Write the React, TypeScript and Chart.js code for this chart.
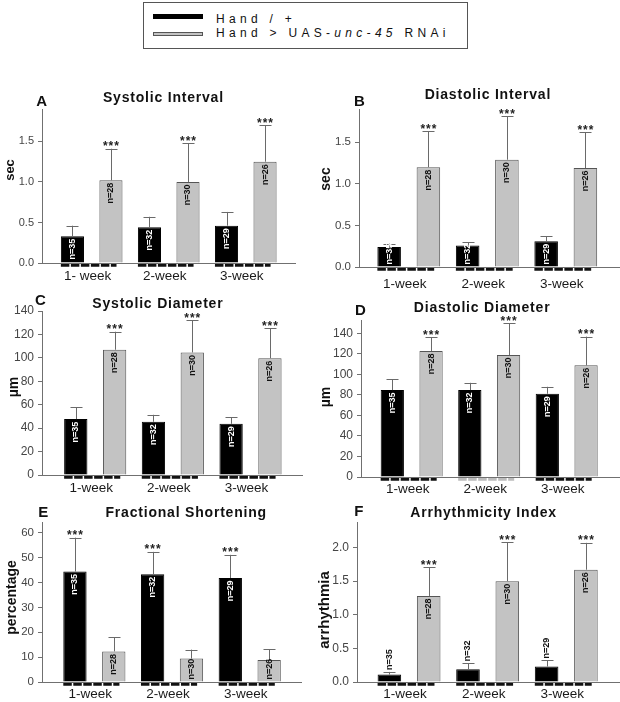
import React, { useEffect, useRef } from "react";
import { Chart, registerables } from "chart.js";

Chart.register(...registerables);

const FONT = "'Liberation Sans', Arial, Helvetica, sans-serif";
const NARROW = "'Liberation Sans Narrow', 'Arial Narrow', 'Liberation Sans', Arial, sans-serif";

// ---------- data ----------
const groupPositions = [1, 2, 3];
const weekLabels = ["1-week", "2-week", "3-week"];
const weekLabelsA = ["1- week", "2-week", "3-week"];

const controlName = "Hand / +";
const rnaiPrefix = "Hand > UAS-";
const rnaiGene = "unc-45";
const rnaiSuffix = " RNAi";

const nControl = ["n=35", "n=32", "n=29"];
const nRnai = ["n=28", "n=30", "n=26"];
const stars = ["***", "***", "***"];
const noStars = ["", "", ""];

// A: Systolic Interval (sec)
const sysIntControl = [0.33, 0.44, 0.46];
const sysIntControlErr = [0.13, 0.13, 0.17];
const sysIntRnai = [1.02, 1.0, 1.25];
const sysIntRnaiErr = [0.39, 0.48, 0.45];

// B: Diastolic Interval (sec)
const diaIntControl = [0.24, 0.26, 0.31];
const diaIntControlErr = [0.04, 0.04, 0.06];
const diaIntRnai = [1.2, 1.29, 1.19];
const diaIntRnaiErr = [0.43, 0.52, 0.43];

const intervalTicks = [0, 0.5, 1.0, 1.5];
const intervalTickLabels = ["0.0", "0.5", "1.0", "1.5"];

// C: Systolic Diameter (µm)
const sysDiaControl = [47.7, 45.4, 43.7];
const sysDiaControlErr = [10.3, 6.0, 5.7];
const sysDiaRnai = [106.9, 104.6, 99.7];
const sysDiaRnaiErr = [15.4, 27.7, 25.7];

// D: Diastolic Diameter (µm)
const diaDiaControl = [84.7, 84.7, 81.1];
const diaDiaControlErr = [10.4, 7.1, 6.8];
const diaDiaRnai = [122.8, 118.9, 108.8];
const diaDiaRnaiErr = [13.3, 30.9, 28.0];

const diameterTicks = [0, 20, 40, 60, 80, 100, 120, 140];
const diameterTickLabels = ["0", "20", "40", "60", "80", "100", "120", "140"];

// E: Fractional Shortening (percentage)
const fsControl = [44.4, 43.3, 41.8];
const fsControlErr = [13.6, 9.0, 9.3];
const fsRnai = [12.3, 9.4, 8.8];
const fsRnaiErr = [5.7, 3.6, 4.3];
const fsTicks = [0, 10, 20, 30, 40, 50, 60];
const fsTickLabels = ["0", "10", "20", "30", "40", "50", "60"];

// F: Arrhythmicity Index
const aiControl = [0.11, 0.19, 0.23];
const aiControlErr = [0.04, 0.09, 0.09];
const aiRnai = [1.28, 1.5, 1.67];
const aiRnaiErr = [0.43, 0.58, 0.4];
const aiTicks = [0, 0.5, 1.0, 1.5, 2.0];
const aiTickLabels = ["0.0", "0.5", "1.0", "1.5", "2.0"];

// ---------- panel layout ----------
type Pt = { x: number; y: number };
type PanelCfg = {
  letter: string;
  title: string;
  yTitle: string;
  yTitleFont: string;
  canvas: { x: number; y: number; w: number; h: number };
  area: { L: number; R: number; T: number; B: number };
  xMin: number;
  xMax: number;
  yMax: number;
  yTicks: number[];
  yTickLabels: string[];
  yTickSize: number;
  xLabels: string[];
  xLabelPad: number;
  control: number[];
  controlErr: number[];
  rnai: number[];
  rnaiErr: number[];
  controlStars: string[];
  rnaiStars: string[];
  controlNAbove: boolean;
  titlePos: Pt;
  letterPos: Pt;
  yTitlePos: Pt;
  dashColors: string[];
};

const panels: PanelCfg[] = [
  {
    letter: "A", title: "Systolic Interval", yTitle: "sec", yTitleFont: `bold 13px ${FONT}`,
    canvas: { x: 0, y: 60, w: 310, h: 232 }, area: { L: 42, R: 295, T: 109, B: 263 },
    xMin: 0.355, xMax: 3.639, yMax: 1.9, yTicks: intervalTicks, yTickLabels: intervalTickLabels, yTickSize: 11,
    xLabels: weekLabelsA, xLabelPad: 5.5,
    control: sysIntControl, controlErr: sysIntControlErr, rnai: sysIntRnai, rnaiErr: sysIntRnaiErr,
    controlStars: noStars, rnaiStars: stars, controlNAbove: false,
    titlePos: { x: 163, y: 97.7 }, letterPos: { x: 41.7, y: 101.7 }, yTitlePos: { x: 10.5, y: 170 },
    dashColors: ["#111", "#111", "#111"],
  },
  {
    letter: "B", title: "Diastolic Interval", yTitle: "sec", yTitleFont: `bold 14px ${FONT}`,
    canvas: { x: 310, y: 60, w: 310, h: 232 }, area: { L: 359, R: 619, T: 109, B: 267 },
    xMin: 0.366, xMax: 3.678, yMax: 1.9, yTicks: intervalTicks, yTickLabels: intervalTickLabels, yTickSize: 11.5,
    xLabels: weekLabels, xLabelPad: 9,
    control: diaIntControl, controlErr: diaIntControlErr, rnai: diaIntRnai, rnaiErr: diaIntRnaiErr,
    controlStars: noStars, rnaiStars: stars, controlNAbove: false,
    titlePos: { x: 487.5, y: 95.3 }, letterPos: { x: 359.5, y: 102 }, yTitlePos: { x: 325.8, y: 179 },
    dashColors: ["#111", "#111", "#111"],
  },
  {
    letter: "C", title: "Systolic Diameter", yTitle: "µm", yTitleFont: `bold 14px ${FONT}`,
    canvas: { x: 0, y: 292, w: 310, h: 203 }, area: { L: 42, R: 302, T: 311, B: 475 },
    xMin: 0.315, xMax: 3.663, yMax: 140, yTicks: diameterTicks, yTickLabels: diameterTickLabels, yTickSize: 12,
    xLabels: weekLabels, xLabelPad: 5.5,
    control: sysDiaControl, controlErr: sysDiaControlErr, rnai: sysDiaRnai, rnaiErr: sysDiaRnaiErr,
    controlStars: noStars, rnaiStars: stars, controlNAbove: false,
    titlePos: { x: 157.5, y: 304.3 }, letterPos: { x: 40.5, y: 301.3 }, yTitlePos: { x: 14, y: 387 },
    dashColors: ["#111", "#111", "#111"],
  },
  {
    letter: "D", title: "Diastolic Diameter", yTitle: "µm", yTitleFont: `bold 14px ${FONT}`,
    canvas: { x: 310, y: 292, w: 310, h: 203 }, area: { L: 361, R: 619, T: 320, B: 477 },
    xMin: 0.346, xMax: 3.675, yMax: 153, yTicks: diameterTicks, yTickLabels: diameterTickLabels, yTickSize: 12,
    xLabels: weekLabels, xLabelPad: 4.3,
    control: diaDiaControl, controlErr: diaDiaControlErr, rnai: diaDiaRnai, rnaiErr: diaDiaRnaiErr,
    controlStars: noStars, rnaiStars: stars, controlNAbove: false,
    titlePos: { x: 481.7, y: 307.7 }, letterPos: { x: 360.3, y: 310.5 }, yTitlePos: { x: 326, y: 397 },
    dashColors: ["#111", "#bdbdbd", "#111"],
  },
  {
    letter: "E", title: "Fractional Shortening", yTitle: "percentage", yTitleFont: `bold 14px ${FONT}`,
    canvas: { x: 0, y: 495, w: 310, h: 207 }, area: { L: 42, R: 301, T: 522, B: 682 },
    xMin: 0.326, xMax: 3.66, yMax: 64.3, yTicks: fsTicks, yTickLabels: fsTickLabels, yTickSize: 11.5,
    xLabels: weekLabels, xLabelPad: 4,
    control: fsControl, controlErr: fsControlErr, rnai: fsRnai, rnaiErr: fsRnaiErr,
    controlStars: stars, rnaiStars: noStars, controlNAbove: false,
    titlePos: { x: 185.8, y: 513.3 }, letterPos: { x: 43.3, y: 512.8 }, yTitlePos: { x: 12.2, y: 597.5 },
    dashColors: ["#111", "#111", "#111"],
  },
  {
    letter: "F", title: "Arrhythmicity Index", yTitle: "arrhythmia", yTitleFont: `bold 15px ${FONT}`,
    canvas: { x: 310, y: 495, w: 310, h: 207 }, area: { L: 357, R: 619, T: 522, B: 682 },
    xMin: 0.338, xMax: 3.671, yMax: 2.38, yTicks: aiTicks, yTickLabels: aiTickLabels, yTickSize: 12,
    xLabels: weekLabels, xLabelPad: 3.8,
    control: aiControl, controlErr: aiControlErr, rnai: aiRnai, rnaiErr: aiRnaiErr,
    controlStars: noStars, rnaiStars: stars, controlNAbove: true,
    titlePos: { x: 483.2, y: 513.3 }, letterPos: { x: 358.8, y: 512 }, yTitlePos: { x: 325.3, y: 610 },
    dashColors: ["#111", "#111", "#111"],
  },
];

const BLACK = "#000000";
const GRAY = "#c3c3c3";
const GRAY_BORDER = "#555555";
const AXIS = "#707070";

function makeAnnotate(cfg: PanelCfg) {
  const ox = cfg.canvas.x;
  const oy = cfg.canvas.y;
  return {
    id: "annotate",
    afterDatasetsDraw(chart: any) {
      const ctx: CanvasRenderingContext2D = chart.ctx;
      const yScale = chart.scales.y;
      const metas = [chart.getDatasetMeta(0), chart.getDatasetMeta(1)];
      const vals = [cfg.control, cfg.rnai];
      const errs = [cfg.controlErr, cfg.rnaiErr];
      const starArr = [cfg.controlStars, cfg.rnaiStars];
      const nArr = [nControl, nRnai];
      const axisY = chart.chartArea.bottom;
      ctx.save();
      // dashed underlines below each group
      groupPositions.forEach((g, i) => {
        const b0 = metas[0].data[i];
        const b1 = metas[1].data[i];
        const x0 = b0.x - b0.width / 2;
        const x1 = b1.x + b1.width / 2 - 6;
        ctx.beginPath();
        ctx.setLineDash([8.5, 1.5]);
        ctx.lineWidth = 2.6;
        ctx.strokeStyle = cfg.dashColors[i];
        ctx.moveTo(x0, axisY + 2.4);
        ctx.lineTo(x1, axisY + 2.4);
        ctx.stroke();
      });
      ctx.setLineDash([]);
      metas.forEach((m: any, d: number) => {
        m.data.forEach((el: any, i: number) => {
          const topPx = yScale.getPixelForValue(vals[d][i] + errs[d][i]);
          const cx = Math.round(el.x) + 0.5;
          // error bar (upper only)
          ctx.strokeStyle = "#6a6a6a";
          ctx.lineWidth = 1;
          ctx.beginPath();
          ctx.moveTo(cx, el.y);
          ctx.lineTo(cx, topPx);
          ctx.moveTo(cx - 6, Math.round(topPx) + 0.5);
          ctx.lineTo(cx + 6, Math.round(topPx) + 0.5);
          ctx.stroke();
          // significance stars
          const s = starArr[d][i];
          if (s) {
            ctx.font = `bold 12px ${FONT}`;
            (ctx as any).letterSpacing = "1px";
            ctx.fillStyle = "#222";
            ctx.textAlign = "center";
            ctx.textBaseline = "alphabetic";
            ctx.fillText(s, el.x + 0.5, topPx + 1.5);
            (ctx as any).letterSpacing = "0px";
          }
          // n labels (rotated)
          const label = nArr[d][i];
          ctx.font = `bold 9px ${NARROW}`;
          const w = ctx.measureText(label).width;
          const barH = el.base - el.y;
          ctx.save();
          ctx.textBaseline = "middle";
          if (d === 0 && cfg.controlNAbove) {
            ctx.translate(el.x, topPx - 2);
            ctx.rotate(-Math.PI / 2);
            ctx.textAlign = "left";
            ctx.fillStyle = "#111";
          } else if (barH >= w + 5) {
            ctx.translate(el.x, el.y + 2.5);
            ctx.rotate(-Math.PI / 2);
            ctx.textAlign = "right";
            ctx.fillStyle = d === 0 ? "#ffffff" : "#111";
          } else {
            ctx.translate(el.x, el.base - 2);
            ctx.rotate(-Math.PI / 2);
            ctx.textAlign = "left";
            ctx.fillStyle = d === 0 ? "#ffffff" : "#111";
          }
          ctx.fillText(label, 0, 0);
          ctx.restore();
        });
      });
      ctx.restore();
    },
    afterDraw(chart: any) {
      const ctx: CanvasRenderingContext2D = chart.ctx;
      ctx.save();
      ctx.fillStyle = "#111";
      ctx.textBaseline = "middle";
      ctx.textAlign = "center";
      // title
      ctx.font = `bold 14px ${FONT}`;
      (ctx as any).letterSpacing = "0.8px";
      ctx.fillText(cfg.title, cfg.titlePos.x - ox + 0.4, cfg.titlePos.y - oy);
      (ctx as any).letterSpacing = "0px";
      // panel letter
      ctx.font = `bold 15px ${FONT}`;
      ctx.fillText(cfg.letter, cfg.letterPos.x - ox, cfg.letterPos.y - oy);
      // y title
      ctx.font = cfg.yTitleFont;
      ctx.translate(cfg.yTitlePos.x - ox, cfg.yTitlePos.y - oy);
      ctx.rotate(-Math.PI / 2);
      ctx.fillText(cfg.yTitle, 0, 0);
      ctx.restore();
    },
  };
}

function Panel({ cfg }: { cfg: PanelCfg }) {
  const ref = useRef<HTMLCanvasElement | null>(null);
  const c = cfg.canvas;
  const a = cfg.area;
  useEffect(() => {
    if (!ref.current) return;
    const chart = new Chart(ref.current, {
      type: "bar",
      data: {
        datasets: [
          {
            label: controlName,
            data: groupPositions.map((g, i) => ({ x: g, y: cfg.control[i] })),
            backgroundColor: BLACK,
            borderColor: BLACK,
            borderWidth: 1,
            categoryPercentage: 1.0,
            barPercentage: 0.6,
          },
          {
            label: rnaiPrefix + rnaiGene + rnaiSuffix,
            data: groupPositions.map((g, i) => ({ x: g, y: cfg.rnai[i] })),
            backgroundColor: GRAY,
            borderColor: GRAY_BORDER,
            borderWidth: 1,
            categoryPercentage: 1.0,
            barPercentage: 0.6,
          },
        ],
      } as any,
      options: {
        animation: false,
        responsive: false,
        maintainAspectRatio: false,
        devicePixelRatio: 1,
        events: [],
        layout: {
          padding: { top: a.T - c.y, right: c.x + c.w - a.R, left: 0, bottom: 0 },
        },
        plugins: {
          legend: { display: false },
          tooltip: { enabled: false },
          title: { display: false },
        },
        scales: {
          x: {
            type: "linear",
            offset: false,
            min: cfg.xMin,
            max: cfg.xMax,
            afterBuildTicks: (s: any) => {
              s.ticks = groupPositions.map((v) => ({ value: v }));
            },
            afterFit: (s: any) => {
              s.height = c.y + c.h - a.B;
            },
            grid: { display: false, drawTicks: false },
            border: { display: true, color: AXIS, width: 1 },
            ticks: {
              autoSkip: false,
              maxRotation: 0,
              padding: cfg.xLabelPad,
              labelOffset: -4,
              color: "#1a1a1a",
              font: { family: FONT, size: 13.5 },
              callback: (_v: any, i: number) => cfg.xLabels[i],
            },
          },
          y: {
            type: "linear",
            min: 0,
            max: cfg.yMax,
            afterBuildTicks: (s: any) => {
              s.ticks = cfg.yTicks.map((v) => ({ value: v }));
            },
            afterFit: (s: any) => {
              s.width = a.L - c.x;
            },
            grid: { drawOnChartArea: false, drawTicks: true, tickLength: 4, color: AXIS },
            border: { display: true, color: AXIS, width: 1 },
            ticks: {
              padding: 4,
              color: "#454545",
              font: { family: FONT, size: cfg.yTickSize },
              callback: (_v: any, i: number) => cfg.yTickLabels[i],
            },
          },
        },
      } as any,
      plugins: [makeAnnotate(cfg)],
    });
    return () => chart.destroy();
  }, []);
  return (
    <canvas
      ref={ref}
      width={c.w}
      height={c.h}
      style={{ position: "absolute", left: c.x, top: c.y, width: c.w, height: c.h }}
    />
  );
}

function Legend() {
  const text: React.CSSProperties = {
    position: "absolute",
    left: 216,
    fontFamily: FONT,
    fontSize: 12,
    lineHeight: "14px",
    letterSpacing: "4.3px",
    color: "#111",
    whiteSpace: "nowrap",
  };
  return (
    <div>
      <div
        style={{
          position: "absolute",
          left: 143,
          top: 2,
          width: 325,
          height: 47,
          border: "1px solid #555",
          boxSizing: "border-box",
        }}
      />
      <div style={{ position: "absolute", left: 153, top: 14, width: 50, height: 5, background: BLACK }} />
      <div
        style={{
          position: "absolute",
          left: 153,
          top: 32,
          width: 50,
          height: 4,
          background: GRAY,
          border: `1px solid ${GRAY_BORDER}`,
          boxSizing: "border-box",
        }}
      />
      <div style={{ ...text, top: 11.5 }}>{controlName}</div>
      <div style={{ ...text, top: 26 }}>
        {rnaiPrefix}
        <i>{rnaiGene}</i>
        {rnaiSuffix}
      </div>
    </div>
  );
}

export default function App() {
  return (
    <div
      style={{
        position: "absolute",
        left: 0,
        top: 0,
        width: 620,
        height: 702,
        background: "#ffffff",
        overflow: "hidden",
      }}
    >
      <Legend />
      {panels.map((p) => (
        <Panel key={p.letter} cfg={p} />
      ))}
    </div>
  );
}
